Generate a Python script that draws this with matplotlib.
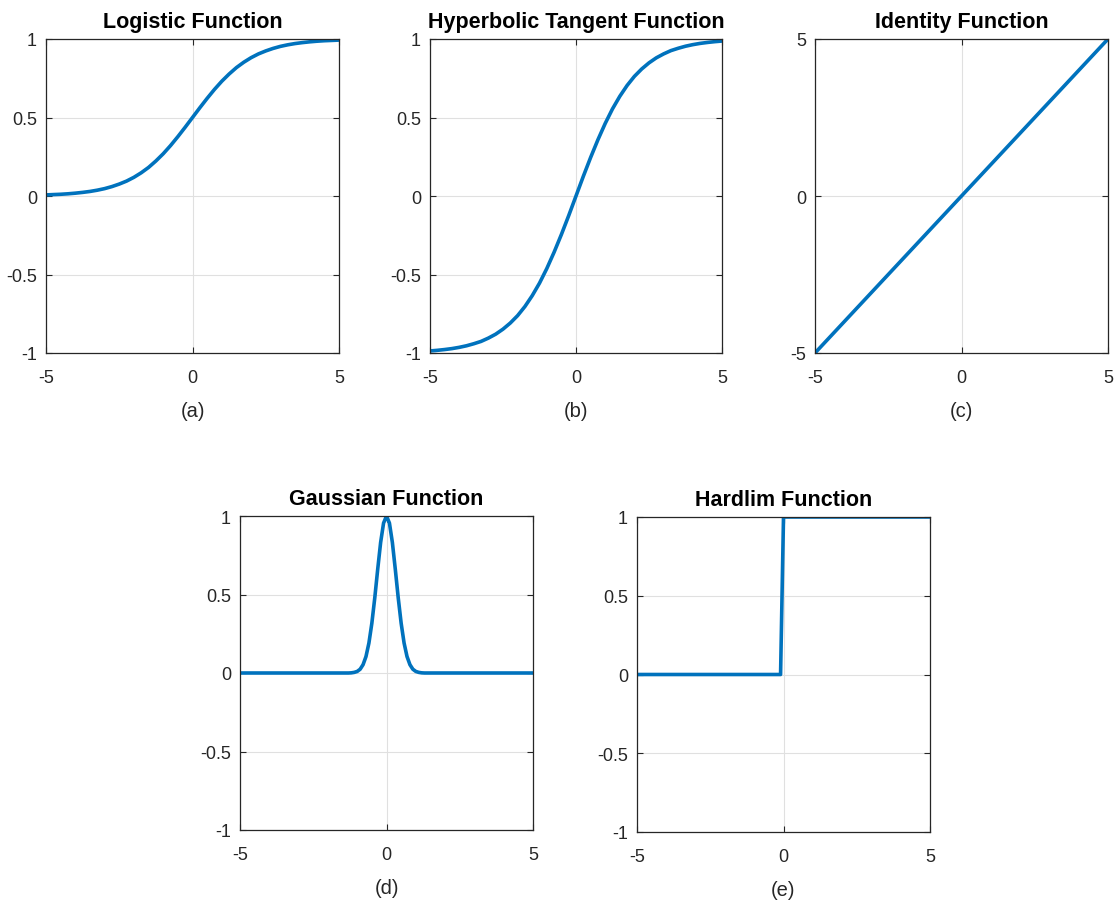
"""Five activation functions in a MATLAB-style 2+3 panel layout."""
import matplotlib
matplotlib.use("Agg")
import matplotlib.pyplot as plt

# ---- values ----
x_q = [-5, -4.75, -4.5, -4.25, -4, -3.75, -3.5, -3.25, -3, -2.75, -2.5, -2.25, -2, -1.75,
       -1.5, -1.25, -1, -0.75, -0.5, -0.25, 0, 0.25, 0.5, 0.75, 1, 1.25, 1.5, 1.75, 2,
       2.25, 2.5, 2.75, 3, 3.25, 3.5, 3.75, 4, 4.25, 4.5, 4.75, 5]
logistic_y = [0.007, 0.009, 0.011, 0.014, 0.018, 0.023, 0.029, 0.037, 0.047, 0.060, 0.076,
              0.095, 0.119, 0.148, 0.182, 0.223, 0.269, 0.321, 0.378, 0.438, 0.5, 0.562,
              0.622, 0.679, 0.731, 0.777, 0.818, 0.852, 0.881, 0.905, 0.924, 0.940, 0.953,
              0.963, 0.971, 0.977, 0.982, 0.986, 0.989, 0.991, 0.993]
tanh_y = [-0.987, -0.983, -0.978, -0.972, -0.964, -0.954, -0.941, -0.926, -0.905, -0.880,
          -0.848, -0.809, -0.762, -0.704, -0.635, -0.555, -0.462, -0.358, -0.245, -0.125,
          0.0, 0.125, 0.245, 0.358, 0.462, 0.555, 0.635, 0.704, 0.762, 0.809, 0.848, 0.880,
          0.905, 0.926, 0.941, 0.954, 0.964, 0.972, 0.978, 0.983, 0.987]
identity_x = [-5, 5]
identity_y = [-5, 5]
gauss_x = [-5, -1.3, -1.2, -1.1, -1.0, -0.9, -0.8, -0.7, -0.6, -0.5, -0.4, -0.3, -0.2, -0.1,
           0, 0.1, 0.2, 0.3, 0.4, 0.5, 0.6, 0.7, 0.8, 0.9, 1.0, 1.1, 1.2, 1.3, 5]
gauss_y = [0, 0, 0.001, 0.004, 0.010, 0.024, 0.053, 0.105, 0.191, 0.317, 0.479, 0.661, 0.832,
           0.955, 1.0, 0.955, 0.832, 0.661, 0.479, 0.317, 0.191, 0.105, 0.053, 0.024, 0.010,
           0.004, 0.001, 0, 0]
hardlim_x = [-5, -0.1, 0, 5]
hardlim_y = [0, 0, 1, 1]

titles = ["Logistic Function", "Hyperbolic Tangent Function", "Identity Function",
          "Gaussian Function", "Hardlim Function"]
captions = ["(a)", "(b)", "(c)", "(d)", "(e)"]
unit_ticks = [-1, -0.5, 0, 0.5, 1]
unit_labels = ["-1", "-0.5", "0", "0.5", "1"]
x_ticks = [-5, 0, 5]
x_labels = ["-5", "0", "5"]

plt.rcParams["font.family"] = ["Liberation Sans", "DejaVu Sans"]
plt.rcParams["axes.unicode_minus"] = False
INK = "#262626"
BLUE = "#0072BD"

W, H = 1114, 903
fig = plt.figure(figsize=(W / 100, H / 100), dpi=100)

# axes boxes in pixels: left, top, width, height
boxes = [(46, 40, 293, 314), (430, 40, 292, 314), (815, 40, 293, 314),
         (240, 517, 293, 314), (637, 518, 293, 315)]
series = [(x_q, logistic_y), (x_q, tanh_y), (identity_x, identity_y),
          (gauss_x, gauss_y), (hardlim_x, hardlim_y)]

for i, ((l, t, w, h), (xs, ys)) in enumerate(zip(boxes, series)):
    ax = fig.add_axes([l / W, 1 - (t + h) / H, w / W, h / H])
    ax.plot(xs, ys, color=BLUE, lw=2.6, solid_joinstyle="round")
    ax.set_xlim(-5, 5)
    ax.set_xticks(x_ticks, x_labels)
    if i == 2:
        ax.set_ylim(-5, 5)
        ax.set_yticks([-5, 0, 5], ["-5", "0", "5"])
    else:
        ax.set_ylim(-1, 1)
        ax.set_yticks(unit_ticks, unit_labels)
    ax.grid(True, color="#e0e0e0", lw=0.8)
    ax.set_axisbelow(True)
    for s in ax.spines.values():
        s.set_color(INK)
        s.set_linewidth(0.9)
    ax.tick_params(direction="in", length=4, width=0.8, color=INK, labelcolor=INK,
                   labelsize=13, top=True, right=True)
    ax.tick_params(axis="x", pad=11.5)
    ax.tick_params(axis="y", pad=6.5)
    ax.set_title(titles[i], fontsize=15.5, fontweight="bold", color="black", pad=8.5)
    ax.set_xlabel(captions[i], fontsize=14.5, color=INK, labelpad=11)

fig.savefig("out.png", dpi=100)
